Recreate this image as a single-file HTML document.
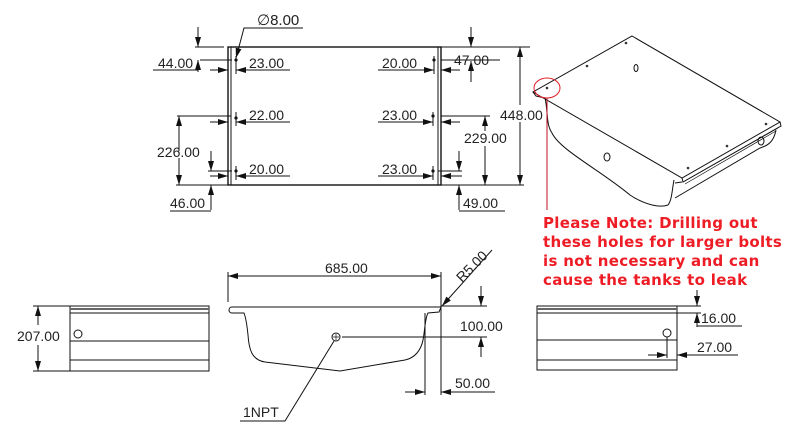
<!DOCTYPE html>
<html><head><meta charset="utf-8"><style>
html,body{margin:0;padding:0;background:#fff;}
svg{display:block;}
text{font-family:"Liberation Sans",sans-serif;font-size:14px;fill:#222;}
.r{font-family:"DejaVu Sans",sans-serif;font-weight:bold;font-size:15px;fill:#ee1c25;letter-spacing:0.3px;}
</style></head><body>
<svg width="798" height="441" viewBox="0 0 798 441" xmlns="http://www.w3.org/2000/svg">
<defs>
<marker id="a" viewBox="0 0 10 6" refX="10" refY="3" markerWidth="10" markerHeight="6" orient="auto-start-reverse" markerUnits="userSpaceOnUse"><path d="M0,0L10,3L0,6z" fill="#111"/></marker>
</defs>
<g stroke="#111" stroke-width="1" fill="none">
<rect x="228" y="47" width="213" height="138" stroke-width="1.4"/>
<line x1="231" y1="47" x2="231" y2="185"/>
<line x1="438" y1="47" x2="438" y2="185"/>
<polyline points="303,28 244,28 236,58" marker-end="url(#a)"/>
<line x1="195" y1="47" x2="224" y2="47"/>
<line x1="200" y1="60" x2="232" y2="60"/>
<line x1="198" y1="27" x2="198" y2="47" marker-end="url(#a)"/>
<line x1="198" y1="72" x2="198" y2="60" marker-end="url(#a)"/>
<line x1="153" y1="70" x2="198" y2="70"/>
<line x1="210" y1="70" x2="228" y2="70" marker-end="url(#a)"/>
<line x1="290" y1="70" x2="236" y2="70" marker-end="url(#a)"/>
<line x1="236" y1="56" x2="236" y2="74"/>
<line x1="378" y1="70" x2="434" y2="70" marker-end="url(#a)"/>
<line x1="460" y1="70" x2="441" y2="70" marker-end="url(#a)"/>
<line x1="434" y1="56" x2="434" y2="74"/>
<line x1="441" y1="60" x2="460" y2="60"/>
<line x1="441" y1="47" x2="530" y2="47"/>
<line x1="471" y1="27" x2="471" y2="47" marker-end="url(#a)"/>
<line x1="471" y1="82" x2="471" y2="61" marker-end="url(#a)"/>
<line x1="460" y1="60" x2="500" y2="60"/>
<line x1="177" y1="116" x2="231" y2="116"/>
<line x1="210" y1="122" x2="228" y2="122" marker-end="url(#a)"/>
<line x1="290" y1="122" x2="236" y2="122" marker-end="url(#a)"/>
<line x1="236" y1="112" x2="236" y2="126"/>
<line x1="378" y1="122" x2="433" y2="122" marker-end="url(#a)"/>
<line x1="460" y1="122" x2="441" y2="122" marker-end="url(#a)"/>
<line x1="433" y1="112" x2="433" y2="126"/>
<line x1="441" y1="116" x2="490" y2="116"/>
<line x1="179" y1="151" x2="179" y2="116" marker-end="url(#a)"/>
<line x1="179" y1="158" x2="179" y2="185" marker-end="url(#a)"/>
<line x1="176" y1="185" x2="228" y2="185"/>
<line x1="210" y1="176" x2="228" y2="176" marker-end="url(#a)"/>
<line x1="290" y1="176" x2="236" y2="176" marker-end="url(#a)"/>
<line x1="236" y1="166" x2="236" y2="180"/>
<line x1="378" y1="176" x2="433" y2="176" marker-end="url(#a)"/>
<line x1="462" y1="176" x2="441" y2="176" marker-end="url(#a)"/>
<line x1="433" y1="166" x2="433" y2="180"/>
<line x1="208" y1="171" x2="232" y2="171"/>
<line x1="438" y1="171" x2="462" y2="171"/>
<line x1="211" y1="151" x2="211" y2="171" marker-end="url(#a)"/>
<line x1="211" y1="210" x2="211" y2="185" marker-end="url(#a)"/>
<line x1="170" y1="211" x2="211" y2="211"/>
<line x1="459" y1="151" x2="459" y2="171" marker-end="url(#a)"/>
<line x1="459" y1="210" x2="459" y2="185" marker-end="url(#a)"/>
<line x1="459" y1="211" x2="505" y2="211"/>
<line x1="485" y1="131" x2="485" y2="116" marker-end="url(#a)"/>
<line x1="485" y1="146" x2="485" y2="185" marker-end="url(#a)"/>
<line x1="441" y1="185" x2="524" y2="185"/>
<line x1="520" y1="105" x2="520" y2="47" marker-end="url(#a)"/>
<line x1="520" y1="122" x2="520" y2="185" marker-end="url(#a)"/>
</g>
<g fill="#111">
<circle cx="236" cy="60" r="1.6"/><circle cx="236" cy="118" r="1.6"/><circle cx="236" cy="171" r="1.6"/>
<circle cx="434" cy="60" r="1.6"/><circle cx="433" cy="116" r="1.6"/><circle cx="433" cy="171" r="1.6"/>
</g>
<text x="257" y="25" style="font-size:15px">∅8.00</text>
<text x="158" y="68">44.00</text>
<text x="249" y="68">23.00</text>
<text x="382" y="68">20.00</text>
<text x="454" y="65">47.00</text>
<text x="249" y="120">22.00</text>
<text x="382" y="120">23.00</text>
<text x="500" y="120">448.00</text>
<text x="157" y="157">226.00</text>
<text x="464" y="143">229.00</text>
<text x="249" y="174">20.00</text>
<text x="382" y="174">23.00</text>
<text x="170" y="208">46.00</text>
<text x="463" y="208">49.00</text>

<g stroke="#111" stroke-width="1" fill="none">
<path d="M632,36 L780,122 L682,178 L533,92 Z" fill="#fff"/>
<path d="M533,92 L536,96 L545,98 M780,122 L781,126 L683,182 L682,178 M682,182 L675,183"/>
<path d="M683,182 L778,128 M685,184 L776,131" stroke-width="0.7"/>
<path d="M545,98 C548,110 546,125 552,133 C560,150 600,170 630,195 C645,205 660,208 668,205 C672,200 672,190 674,180"/>
<path d="M776,130 C774,140 770,145 760,148 L675,198"/>
<ellipse cx="607" cy="157" rx="3" ry="4"/>
<ellipse cx="636" cy="68" rx="2" ry="3.5"/>
<ellipse cx="761" cy="141" rx="3" ry="4"/>
</g>
<g fill="#333"><circle cx="626" cy="43" r="1.3"/><circle cx="587" cy="66" r="1.3"/><circle cx="547" cy="88" r="1.3"/><circle cx="766" cy="124" r="1.3"/><circle cx="727" cy="146" r="1.3"/><circle cx="688" cy="168" r="1.3"/></g>
<ellipse cx="547" cy="88" rx="13" ry="10" stroke="#e0202a" fill="none" stroke-width="1"/>
<line x1="547" y1="98" x2="547" y2="210" stroke="#c01020" stroke-width="1"/>
<text class="r" x="543" y="228">Please Note: Drilling out</text>
<text class="r" x="543" y="247">these holes for larger bolts</text>
<text class="r" x="543" y="266">is not necessary and can</text>
<text class="r" x="543" y="285">cause the tanks to leak</text>

<g stroke="#111" stroke-width="1" fill="none">
<rect x="70" y="306" width="139" height="65"/>
<line x1="70" y1="309" x2="209" y2="309" stroke="#666" stroke-width="2"/>
<line x1="70" y1="313" x2="209" y2="313"/>
<line x1="70" y1="341" x2="209" y2="341"/>
<line x1="70" y1="360" x2="209" y2="360"/>
<circle cx="78" cy="334" r="4"/>
<line x1="33" y1="306" x2="70" y2="306"/>
<line x1="33" y1="371" x2="70" y2="371"/>
<line x1="38" y1="325" x2="38" y2="306" marker-end="url(#a)"/>
<line x1="38" y1="345" x2="38" y2="371" marker-end="url(#a)"/>
</g>
<text x="17" y="341">207.00</text>

<g stroke="#111" stroke-width="1" fill="none">
<path d="M232,307 L441,307 L439,312 L428,313 C425,318 425,330 423,340 C421,350 415,358 405,360 L340,371 L265,362 C252,360 249,350 248,335 C247,325 246,318 244,313 L232,313 C228,313 228,307 232,307 Z"/>
<circle cx="336" cy="337" r="4"/>
<path d="M333,337 h6 M336,334 v6" stroke-width="0.7"/>
<line x1="228" y1="302" x2="228" y2="272"/>
<line x1="441" y1="272" x2="441" y2="395"/>
<line x1="228" y1="276" x2="441" y2="276" marker-start="url(#a)" marker-end="url(#a)"/>
<line x1="492" y1="250" x2="442" y2="306" marker-end="url(#a)"/>
<line x1="441" y1="306" x2="487" y2="306"/>
<line x1="342" y1="337" x2="487" y2="337"/>
<line x1="481" y1="286" x2="481" y2="306" marker-end="url(#a)"/>
<line x1="481" y1="357" x2="481" y2="337" marker-end="url(#a)"/>
<line x1="425" y1="313" x2="425" y2="395"/>
<line x1="405" y1="392" x2="425" y2="392" marker-end="url(#a)"/>
<line x1="495" y1="392" x2="441" y2="392" marker-end="url(#a)"/>
<polyline points="240,421 285,421 334,341" />
</g>
<text x="325" y="273">685.00</text>
<text x="0" y="0" transform="translate(462,283) rotate(-45)">R5.00</text>
<text x="460" y="331">100.00</text>
<text x="455" y="388">50.00</text>
<text x="243" y="417">1NPT</text>

<g stroke="#111" stroke-width="1" fill="none">
<rect x="537" y="306" width="140" height="64"/>
<line x1="537" y1="309" x2="677" y2="309" stroke="#666" stroke-width="2"/>
<line x1="537" y1="313" x2="677" y2="313"/>
<line x1="537" y1="340" x2="677" y2="340"/>
<line x1="537" y1="360" x2="677" y2="360"/>
<circle cx="667" cy="333" r="4"/>
<line x1="667" y1="337" x2="667" y2="358"/>
<line x1="677" y1="306" x2="701" y2="306"/>
<line x1="677" y1="313" x2="701" y2="313"/>
<line x1="697" y1="290" x2="697" y2="306" marker-end="url(#a)"/>
<line x1="697" y1="327" x2="697" y2="313" marker-end="url(#a)"/>
<line x1="697" y1="326" x2="742" y2="326"/>
<line x1="648" y1="355" x2="667" y2="355" marker-end="url(#a)"/>
<line x1="738" y1="355" x2="677" y2="355" marker-end="url(#a)"/>
</g>
<text x="701" y="323">16.00</text>
<text x="697" y="352">27.00</text>
</svg>
</body></html>
